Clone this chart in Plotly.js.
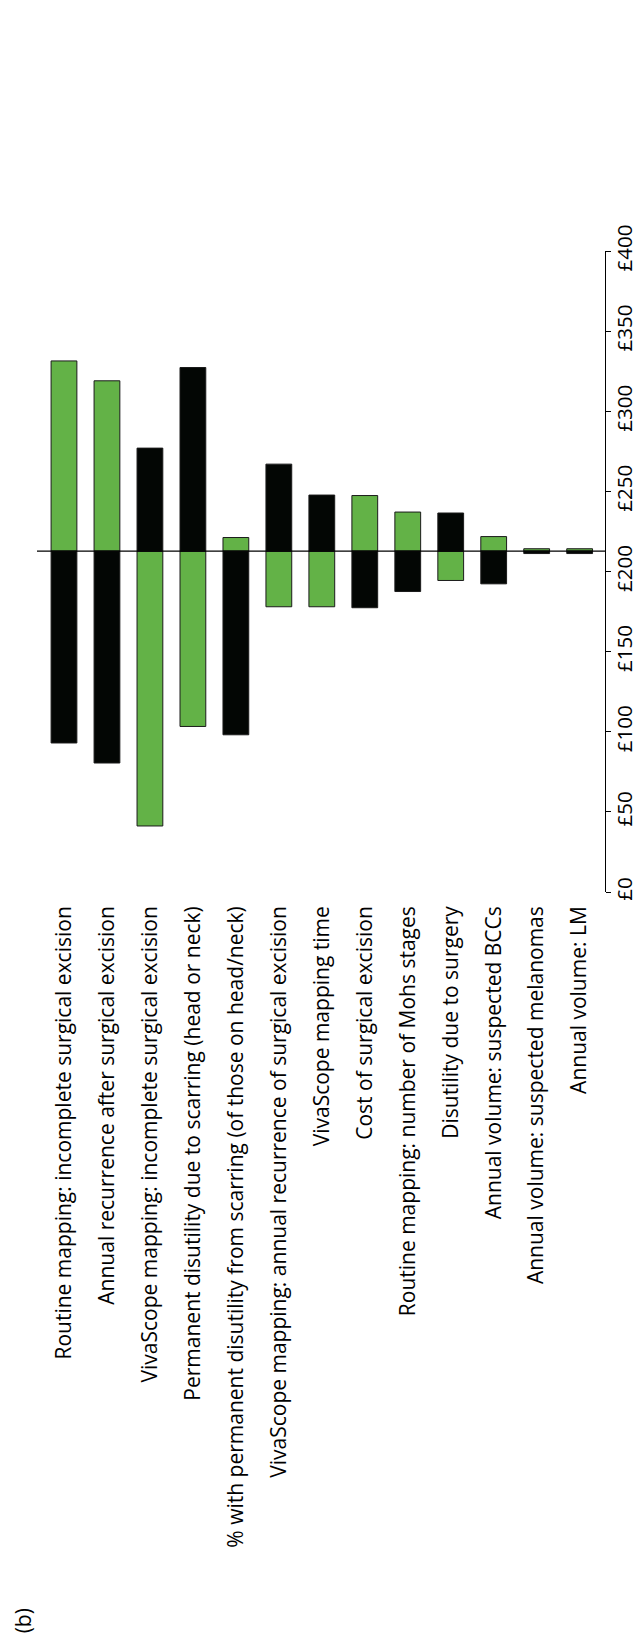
<!DOCTYPE html>
<html>
<head>
<meta charset="utf-8">
<script src="https://cdn.plot.ly/plotly-3.0.1.min.js"></script>
<style>html,body{margin:0;padding:0;background:#fff;}#chart{width:639px;height:1638px;}</style>
</head>
<body>
<div id="chart"></div>
<script>
const categories = [
  "Routine mapping: incomplete surgical excision",
  "Annual recurrence after surgical excision",
  "VivaScope mapping: incomplete surgical excision",
  "Permanent disutility due to scarring (head or neck)",
  "% with permanent disutility from scarring (of those on head/neck)",
  "VivaScope mapping: annual recurrence of surgical excision",
  "VivaScope mapping time",
  "Cost of surgical excision",
  "Routine mapping: number of Mohs stages",
  "Disutility due to surgery",
  "Annual volume: suspected BCCs",
  "Annual volume: suspected melanomas",
  "Annual volume: LM"
];
const baseValue = 212.7;
const greenValues = [331.4, 319.0, 41.2, 103.3, 221.2, 178.0, 178.0, 247.4, 237.1, 194.4, 221.8, 214.2, 214.2];
const blackValues = [93.0, 80.5, 277.0, 327.3, 98.1, 267.0, 247.7, 177.4, 187.5, 236.5, 192.3, 211.2, 211.2];
const tickValues = [0, 50, 100, 150, 200, 250, 300, 350, 400];
const tickLabels = ["£0", "£50", "£100", "£150", "£200", "£250", "£300", "£350", "£400"];
const panelLabel = "(b)";

const FONT = "Open Sans, Noto Sans, sans-serif";
const GREEN = "#63b247";
const BLACK = "#030604";
const EDGE = "#1b1b1b";

const traces = [
  {
    type: "bar", x: categories, y: greenValues.map(v => v - baseValue), base: baseValue,
    width: 0.6, marker: {color: GREEN, line: {color: EDGE, width: 1}}, name: "green", hoverinfo: "skip"
  },
  {
    type: "bar", x: categories, y: blackValues.map(v => v - baseValue), base: baseValue,
    width: 0.6, marker: {color: BLACK, line: {color: EDGE, width: 1}}, name: "black", hoverinfo: "skip"
  }
];

const layout = {
  width: 639, height: 1638,
  margin: {l: 37, r: 34, t: 251, b: 745.7, pad: 0},
  paper_bgcolor: "#ffffff", plot_bgcolor: "#ffffff",
  showlegend: false, barmode: "overlay",
  font: {family: FONT, size: 21, color: "#000"},
  xaxis: {
    type: "category", range: [-0.628, 12.59], automargin: false,
    showline: false, showgrid: false, zeroline: false, ticks: "",
    tickangle: -90, tickfont: {family: FONT, size: 21, color: "#000"},
    ticklabelstandoff: 9
  },
  yaxis: {
    side: "right", range: [0, 400], automargin: false,
    showline: true, linecolor: "#000", linewidth: 1,
    showgrid: false, zeroline: false,
    ticks: "outside", ticklen: 5, tickcolor: "#000", tickwidth: 1,
    tickmode: "array", tickvals: tickValues, ticktext: tickLabels,
    tickangle: -90, ticklabelstandoff: -4,
    tickfont: {family: FONT, size: 20.5, color: "#000"}
  },
  shapes: [{
    type: "line", xref: "paper", x0: 0, x1: 1, yref: "y", y0: baseValue, y1: baseValue,
    line: {color: "#000", width: 1.3}, layer: "above"
  }],
  annotations: [{
    text: panelLabel, xref: "paper", yref: "paper", x: -0.0255, y: -1.137,
    showarrow: false, textangle: -90, font: {family: FONT, size: 21, color: "#000"},
    xanchor: "center", yanchor: "middle"
  }]
};

Plotly.newPlot("chart", traces, layout, {staticPlot: true, displayModeBar: false});
</script>
</body>
</html>
